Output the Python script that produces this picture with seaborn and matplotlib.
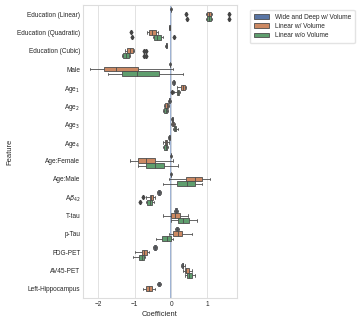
import matplotlib
matplotlib.use("Agg")
import matplotlib.pyplot as plt
import pandas as pd
import seaborn as sns

features = ["Education (Linear)", "Education (Quadratic)", "Education (Cubic)", "Male",
            "Age$_1$", "Age$_2$", "Age$_3$", "Age$_4$", "Age:Female", "Age:Male",
            "A$\\beta_{42}$", "T-tau", "p-Tau", "FDG-PET", "AV45-PET", "Left-Hippocampus"]
models = ["Wide and Deep w/ Volume", "Linear w/ Volume", "Linear w/o Volume"]

# coefficient samples per feature
wide_deep = {
    "Education (Linear)": [-0.02, -0.01, 0.0, 0.01, 0.02],
    "Education (Quadratic)": [-0.06, -0.05, -0.04, -0.03, -0.02],
    "Education (Cubic)": [-0.16, -0.14, -0.13, -0.12, -0.10],
    "Male": [-0.05, -0.04, -0.03, -0.02, -0.01],
    "Age$_1$": [0.02, 0.05, 0.07, 0.09, 0.11],
    "Age$_2$": [-0.09, -0.07, -0.05, -0.03, -0.01],
    "Age$_3$": [0.0, 0.02, 0.03, 0.04, 0.06],
    "Age$_4$": [-0.08, -0.06, -0.05, -0.04, -0.02],
    "Age:Female": [-0.02, -0.01, 0.0, 0.01, 0.02],
    "Age:Male": [-0.02, -0.01, 0.0, 0.01, 0.02],
    "A$\\beta_{42}$": [-0.38, -0.35, -0.33, -0.31, -0.28],
    "T-tau": [0.09, 0.12, 0.14, 0.16, 0.18],
    "p-Tau": [0.11, 0.14, 0.16, 0.18, 0.21],
    "FDG-PET": [-0.50, -0.46, -0.44, -0.42, -0.38],
    "AV45-PET": [0.26, 0.30, 0.32, 0.34, 0.37],
    "Left-Hippocampus": [-0.39, -0.35, -0.33, -0.31, -0.28],
}
linear_vol = {
    "Education (Linear)": [0.42, 0.96, 0.98, 1.01, 1.04, 1.07, 1.10, 1.12, 1.58],
    "Education (Quadratic)": [-1.11, -0.66, -0.61, -0.57, -0.53, -0.47, -0.42, -0.38, -0.35],
    "Education (Cubic)": [-1.27, -1.25, -1.23, -1.22, -1.19, -1.16, -1.14, -1.11, -1.08,
                          -1.05, -1.02, -0.75, -0.68],
    "Male": [-2.23, -1.84, -1.52, -0.92, 0.05],
    "Age$_1$": [0.16, 0.27, 0.33, 0.39, 0.41],
    "Age$_2$": [-0.20, -0.16, -0.12, -0.08, -0.05],
    "Age$_3$": [0.0, 0.03, 0.06, 0.09, 0.12],
    "Age$_4$": [-0.21, -0.18, -0.14, -0.10, -0.07],
    "Age:Female": [-1.13, -0.90, -0.70, -0.45, 0.06],
    "Age:Male": [-0.05, 0.41, 0.66, 0.86, 1.06],
    "A$\\beta_{42}$": [-0.76, -0.68, -0.59, -0.56, -0.54, -0.51, -0.49, -0.47, -0.45],
    "T-tau": [-0.21, -0.01, 0.11, 0.25, 0.46],
    "p-Tau": [-0.07, 0.06, 0.18, 0.31, 0.57],
    "FDG-PET": [-0.99, -0.81, -0.74, -0.67, -0.62],
    "AV45-PET": [0.32, 0.37, 0.42, 0.48, 0.57],
    "Left-Hippocampus": [-0.78, -0.69, -0.62, -0.53, -0.44],
}
linear_novol = {
    "Education (Linear)": [0.43, 0.96, 0.98, 1.01, 1.04, 1.07, 1.10, 1.12, 1.60],
    "Education (Quadratic)": [-1.08, -0.50, -0.46, -0.42, -0.38, -0.33, -0.28, -0.23, 0.08],
    "Education (Cubic)": [-1.36, -1.33, -1.32, -1.31, -1.28, -1.25, -1.23, -1.20, -1.17,
                          -1.15, -1.12, -0.75, -0.68],
    "Male": [-1.73, -1.36, -0.94, -0.32, 0.32],
    "Age$_1$": [0.02, 0.09, 0.15, 0.17, 0.19, 0.21, 0.22, 0.24, 0.25],
    "Age$_2$": [-0.22, -0.19, -0.15, -0.11, -0.08],
    "Age$_3$": [0.04, 0.07, 0.10, 0.14, 0.18],
    "Age$_4$": [-0.22, -0.19, -0.15, -0.11, -0.08],
    "Age:Female": [-0.90, -0.70, -0.44, -0.19, 0.20],
    "Age:Male": [-0.21, 0.17, 0.43, 0.66, 0.85],
    "A$\\beta_{42}$": [-0.85, -0.70, -0.65, -0.62, -0.59, -0.56, -0.53, -0.50, -0.48],
    "T-tau": [0.0, 0.20, 0.34, 0.50, 0.72],
    "p-Tau": [-0.42, -0.24, -0.12, 0.0, 0.06],
    "FDG-PET": [-1.04, -0.87, -0.80, -0.74, -0.72],
    "AV45-PET": [0.39, 0.43, 0.50, 0.57, 0.66],
}

rows = []
for model, data in zip(models, [wide_deep, linear_vol, linear_novol]):
    for feat, vals in data.items():
        for v in vals:
            rows.append({"Feature": feat, "Model": model, "Coefficient": v})
df = pd.DataFrame(rows)

sns.set_theme(style="whitegrid")
plt.rcParams["font.family"] = ["Liberation Sans", "DejaVu Sans"]

fig = plt.figure(figsize=(3.6, 3.24), dpi=100)
ax = fig.add_axes([0.231, 0.080, 0.426, 0.905])
ax.axvline(0, color="#4c72b0", alpha=0.55, lw=1.4, zorder=0)
sns.boxplot(data=df, x="Coefficient", y="Feature", hue="Model", order=features,
            hue_order=models, orient="h", linewidth=0.6, fliersize=2.2,
            flierprops=dict(marker="d", markerfacecolor="#444444",
                            markeredgecolor="#444444"),
            ax=ax)
ax.set_xlim(-2.42, 1.8)
ax.tick_params(axis="both", labelsize=4.7, pad=2, length=0)
ax.set_xlabel("Coefficient", fontsize=5.4, labelpad=2)
ax.set_ylabel("Feature", fontsize=5.4, labelpad=3)
for s in ax.spines.values():
    s.set_color("#dddddd")
    s.set_linewidth(0.8)
ax.grid(axis="x", lw=0.6, color="#dddddd")
ax.grid(axis="y", visible=False)
ax.legend(loc="upper left", bbox_to_anchor=(1.065, 0.995), fontsize=4.7,
          handlelength=2.4, frameon=True, borderpad=0.6, labelspacing=0.35,
          edgecolor="#dddddd")
fig.savefig("out.png", dpi=100)
